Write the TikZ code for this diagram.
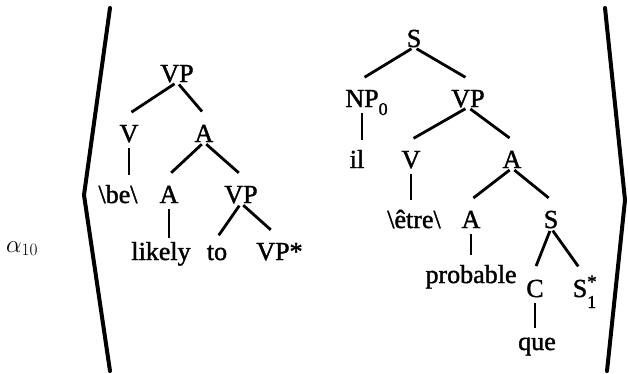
\documentclass[tikz,border=0pt]{standalone}
\usepackage{fontspec}
\setmainfont{Liberation Serif}[FakeBold=1.5]
\DeclareMathSizes{24.88}{24.88}{19}{14.4}
\usetikzlibrary{positioning}

\begin{document}
\begin{tikzpicture}[x=1pt,y=-1pt,on grid,
    every node/.style={font=\fontsize{26}{26}\selectfont,inner sep=0pt,text height=28pt,text depth=0pt},
    low/.style={text height=22pt},
    branch/.style={line width=2.8pt,shorten <=3pt,shorten >=3pt},
    stem/.style={line width=2.8pt,shorten <=6pt},
    bracket/.style={line width=4pt,line join=round,line cap=round}]

    \useasboundingbox (0,0) rectangle (628,373);

    \node[font=\fontsize{24.88}{26}\selectfont,text height=,anchor=base west] (alpha) at (6,252) {$\alpha_{10}$};

    % left tree
    \node (vpL) at (177,68) {VP};
    \node (vL) [below=60pt of vpL, xshift=-48pt] {V};
    \node (aL) [below=60pt of vpL, xshift=27pt] {A};
    \node (beL) [below=61pt of vL, xshift=-11pt] {\textbackslash be\textbackslash};
    \node (aL2) [below=61pt of aL, xshift=-35pt] {A};
    \node (vpL2) [below=61pt of aL, xshift=37pt] {VP};
    \node[low] (likely) [below=60pt of aL2, xshift=-8pt] {likely};
    \node[low] (toL) [below=60pt of vpL2, xshift=-24pt] {to};
    \node (vpStar) [below=57pt of vpL2, xshift=32pt] {VP\rlap{*}};

    \path[branch]
    (vpL.south) edge (vL.north)
    (vpL.south) edge (aL.north)
    (aL.south) edge (aL2.north)
    (aL.south) edge (vpL2.north)
    (vpL2.south) edge (toL.north)
    (vpL2.south) edge (vpStar.north);

    \path[stem]
    (vL.south) edge (vL.south |- beL.north)
    (aL2.south) edge (aL2.south |- likely.north);

    % right tree
    \node (sR) at (414,33) {S};
    \node (np0) [below=60pt of sR, xshift=-52pt] {NP\rlap{\raisebox{-8pt}{\fontsize{18}{18}\selectfont 0}}};
    \node (vpR) [below=60pt of sR, xshift=54pt] {VP};
    \node (il) [below=61pt of np0, xshift=-5pt] {il};
    \node (vR) [below=61pt of vpR, xshift=-57pt] {V};
    \node (aR) [below=61pt of vpR, xshift=44pt] {A};
    \node (etre) [below=60pt of vR, xshift=3pt] {\textbackslash être\textbackslash};
    \node (aR2) [below=60pt of aR, xshift=-41pt] {A};
    \node (sR2) [below=60pt of aR, xshift=39pt] {S};
    \node (probable) [below=55pt of aR2] {probable};
    \node (cR) [below=69pt of sR2, xshift=-16pt] {C};
    \node (sStar) [below=69pt of sR2, xshift=29pt]
      {S\rlap{\fontsize{19}{19}\selectfont\raisebox{9pt}{*}}\rlap{\fontsize{18}{18}\selectfont\raisebox{-11pt}{1}}};
    \node[low] (que) [below=56pt of cR, xshift=2pt] {que};

    \path[branch]
    (sR.south) edge (np0.north)
    (sR.south) edge (vpR.north)
    (vpR.south) edge (vR.north)
    (vpR.south) edge (aR.north)
    (aR.south) edge (aR2.north)
    (aR.south) edge (sR2.north)
    (sR2.south) edge (cR.north)
    (sR2.south) edge (sStar.north);

    \path[stem]
    (np0.south) edge (np0.south |- il.north)
    (vR.south) edge (vR.south |- etre.north)
    (aR2.south) edge (aR2.south |- probable.north)
    (cR.south) edge (cR.south |- que.north);

    % brackets
    \coordinate (lbT) at (110,8);
    \coordinate (lbM) at (84,195);
    \coordinate (lbB) at (110,371);
    \coordinate (rbT) at (605,8);
    \coordinate (rbM) at (625,200);
    \coordinate (rbB) at (607,371);
    \draw[bracket] (lbT) -- (lbM) -- (lbB);
    \draw[bracket] (rbT) -- (rbM) -- (rbB);
\end{tikzpicture}
\end{document}
